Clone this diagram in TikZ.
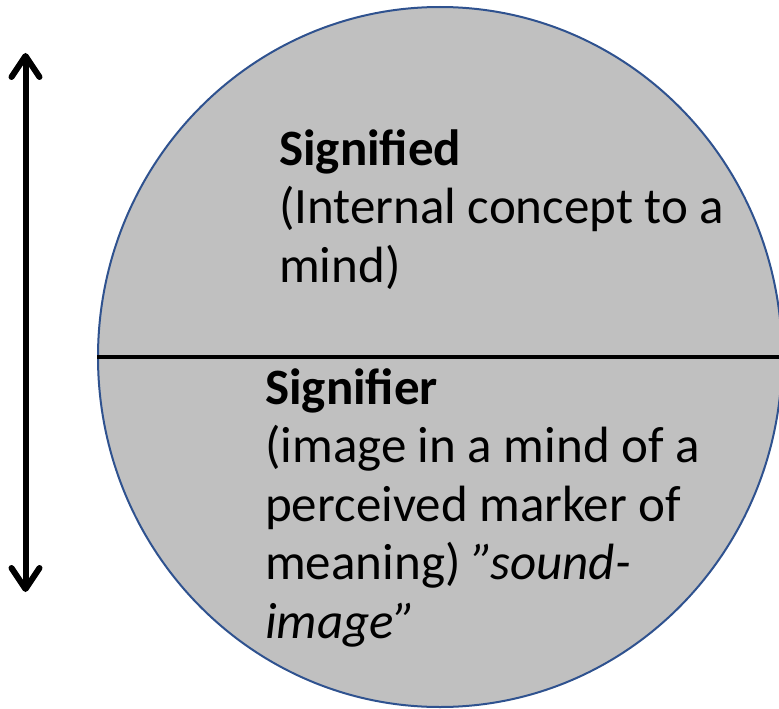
\documentclass[tikz,border=0pt]{standalone}
\usepackage{fontspec}
\setmainfont{Carlito}
\usetikzlibrary{arrows.meta,shapes.geometric}
\definecolor{fillgray}{RGB}{192,192,192}
\definecolor{edgeblue}{RGB}{47,82,143}
\newcommand{\blocktext}[1]{\parbox[t]{500pt}{\raggedright\fontsize{51}{58.5}\selectfont #1}}
\begin{document}
\begin{tikzpicture}[x=1pt,y=-1pt,
  txt/.style={anchor=base west, inner sep=0pt},
  barbtip/.style={Straight Barb[round,length=21pt,width=28pt]}
]
\useasboundingbox (0,0) rectangle (779,709);
\node[ellipse, draw=edgeblue, line width=2pt, fill=fillgray, minimum width=684pt, minimum height=700pt, inner sep=0pt] (sign) at (440,357) {};
\draw[line width=3.5pt] (sign.west) -- (sign.east);
\coordinate (up) at (25.5,53);
\coordinate (down) at (25.5,592);
\draw[line width=6pt, {Straight Barb[round,length=21pt,width=28pt]}-{Straight Barb[round,length=21pt,width=28pt]}] (up) -- (down);
\node[txt] (sd) at (279,165) {\blocktext{\textbf{Signified}\\(Internal concept to a\\mind)}};
\node[txt] (sr) at (265,404) {\blocktext{\textbf{Signifier}\\(image in a mind of a\\perceived marker of\\meaning) \textit{”sound-}\\\textit{image”}}};
\end{tikzpicture}
\end{document}
